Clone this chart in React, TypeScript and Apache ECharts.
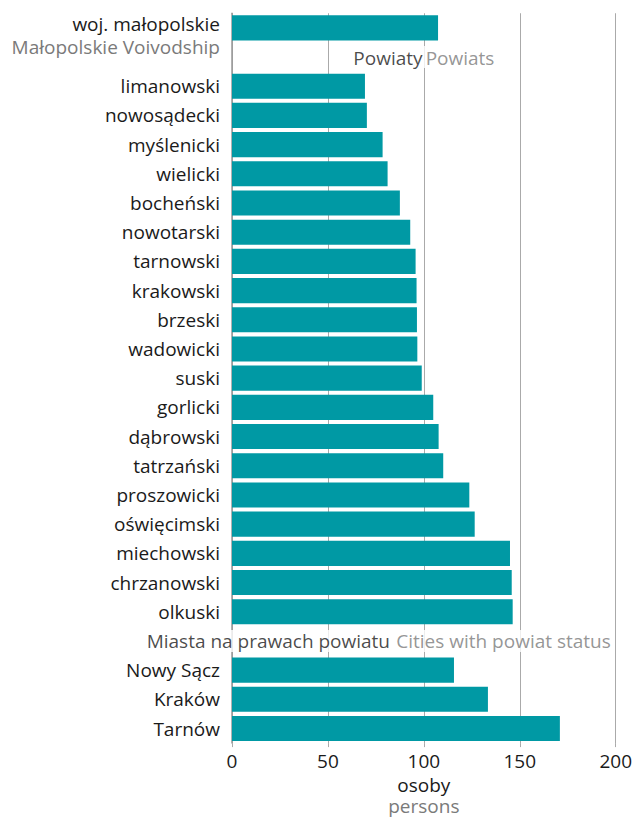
import React, { useEffect, useRef } from "react";
import * as echarts from "echarts";

const voivodshipName = "woj. małopolskie";
const voivodshipNameEn = "Małopolskie Voivodship";
const voivodshipValue = 107.4;

const powiatNames = [
  "limanowski", "nowosądecki", "myślenicki", "wielicki", "bocheński", "nowotarski",
  "tarnowski", "krakowski", "brzeski", "wadowicki", "suski", "gorlicki", "dąbrowski",
  "tatrzański", "proszowicki", "oświęcimski", "miechowski", "chrzanowski", "olkuski",
];
const powiatValues = [
  69.3, 70.3, 78.5, 81.1, 87.5, 92.9, 95.7, 96.2, 96.4, 96.6, 98.9, 104.9, 107.7,
  110.1, 123.7, 126.5, 144.9, 145.8, 146.3,
];

const cityNames = ["Nowy Sącz", "Kraków", "Tarnów"];
const cityValues = [115.7, 133.4, 170.9];

const xTicks = [0, 50, 100, 150, 200];
const headerPowiaty = ["Powiaty", "Powiats"];
const headerCities = ["Miasta na prawach powiatu", "Cities with powiat status"];
const axisName = ["osoby", "persons"];

const FONT = "Open Sans";
const FS = 19;
const DARK = "#1a1a1a";
const GRAY = "#7a7a7a";
const TEAL = "#0099a4";

export default function App() {
  const ref = useRef<HTMLDivElement>(null);
  useEffect(() => {
    if (!ref.current) return;
    const chart = echarts.init(ref.current, undefined, { renderer: "svg" });

    const categories: string[] = [voivodshipName, "", ...powiatNames, "", ...cityNames];
    const values: (number | string)[] = [voivodshipValue, "-", ...powiatValues, "-", ...cityValues];
    const powiatSlot = 1;
    const citySlot = 2 + powiatNames.length;

    chart.setOption({
      animation: false,
      textStyle: { fontFamily: FONT },
      grid: { left: 232, right: 19, top: 12, bottom: 70, containLabel: false },
      xAxis: {
        type: "value",
        min: xTicks[0],
        max: xTicks[xTicks.length - 1],
        interval: 50,
        axisLine: { show: false },
        axisTick: { show: true, length: 4, lineStyle: { color: "#aaa" } },
        splitLine: { show: true, lineStyle: { color: "#aaa", width: 1 } },
        axisLabel: { color: DARK, fontSize: FS, fontFamily: FONT, margin: 8 },
        name: `{a|${axisName[0]}}\n{b|${axisName[1]}}`,
        nameLocation: "middle",
        nameGap: 29,
        nameTextStyle: {
          verticalAlign: "top",
          rich: {
            a: { color: DARK, fontSize: FS, fontFamily: FONT, lineHeight: 21 },
            b: { color: GRAY, fontSize: FS, fontFamily: FONT, lineHeight: 21 },
          },
        },
      },
      yAxis: {
        type: "category",
        inverse: true,
        data: categories,
        axisLine: { show: true, lineStyle: { color: "#999", width: 1.5 } },
        axisTick: { show: false },
        axisLabel: {
          margin: 12,
          fontSize: FS,
          fontFamily: FONT,
          color: DARK,
          formatter: (v: string) =>
            v === voivodshipName
              ? `{s| }\n{a|${v}}\n{g|${voivodshipNameEn}}`
              : `{a|${v}}`,
          rich: {
            s: { fontSize: 10, lineHeight: 15 },
            a: { color: DARK, fontSize: FS, fontFamily: FONT, lineHeight: 23 },
            g: { color: GRAY, fontSize: FS, fontFamily: FONT, lineHeight: 23 },
          },
        },
      },
      series: [
        {
          type: "bar",
          data: values,
          barCategoryGap: "14%",
          itemStyle: { color: TEAL },
          z: 2,
        },
        {
          type: "scatter",
          symbolSize: 0,
          z: 5,
          data: [
            {
              value: [100, powiatSlot],
              label: {
                show: true,
                position: "inside",
                formatter: `{a|${headerPowiaty[0]}} {b|${headerPowiaty[1]}}`,
              },
            },
            {
              value: [198.5, citySlot],
              label: {
                show: true,
                position: "left",
                distance: 0,
                formatter: `{a|${headerCities[0]}}  {b|${headerCities[1]}}`,
              },
            },
          ],
          label: {
            backgroundColor: "#fff",
            padding: [2, 2, 1, 2],
            rich: {
              a: { color: DARK, fontSize: FS, fontFamily: FONT },
              b: { color: GRAY, fontSize: FS, fontFamily: FONT },
            },
          },
          silent: true,
        },
      ],
    });
    return () => chart.dispose();
  }, []);
  return <div ref={ref} style={{ width: 635, height: 820, position: "absolute", left: 0, top: 0 }} />;
}
